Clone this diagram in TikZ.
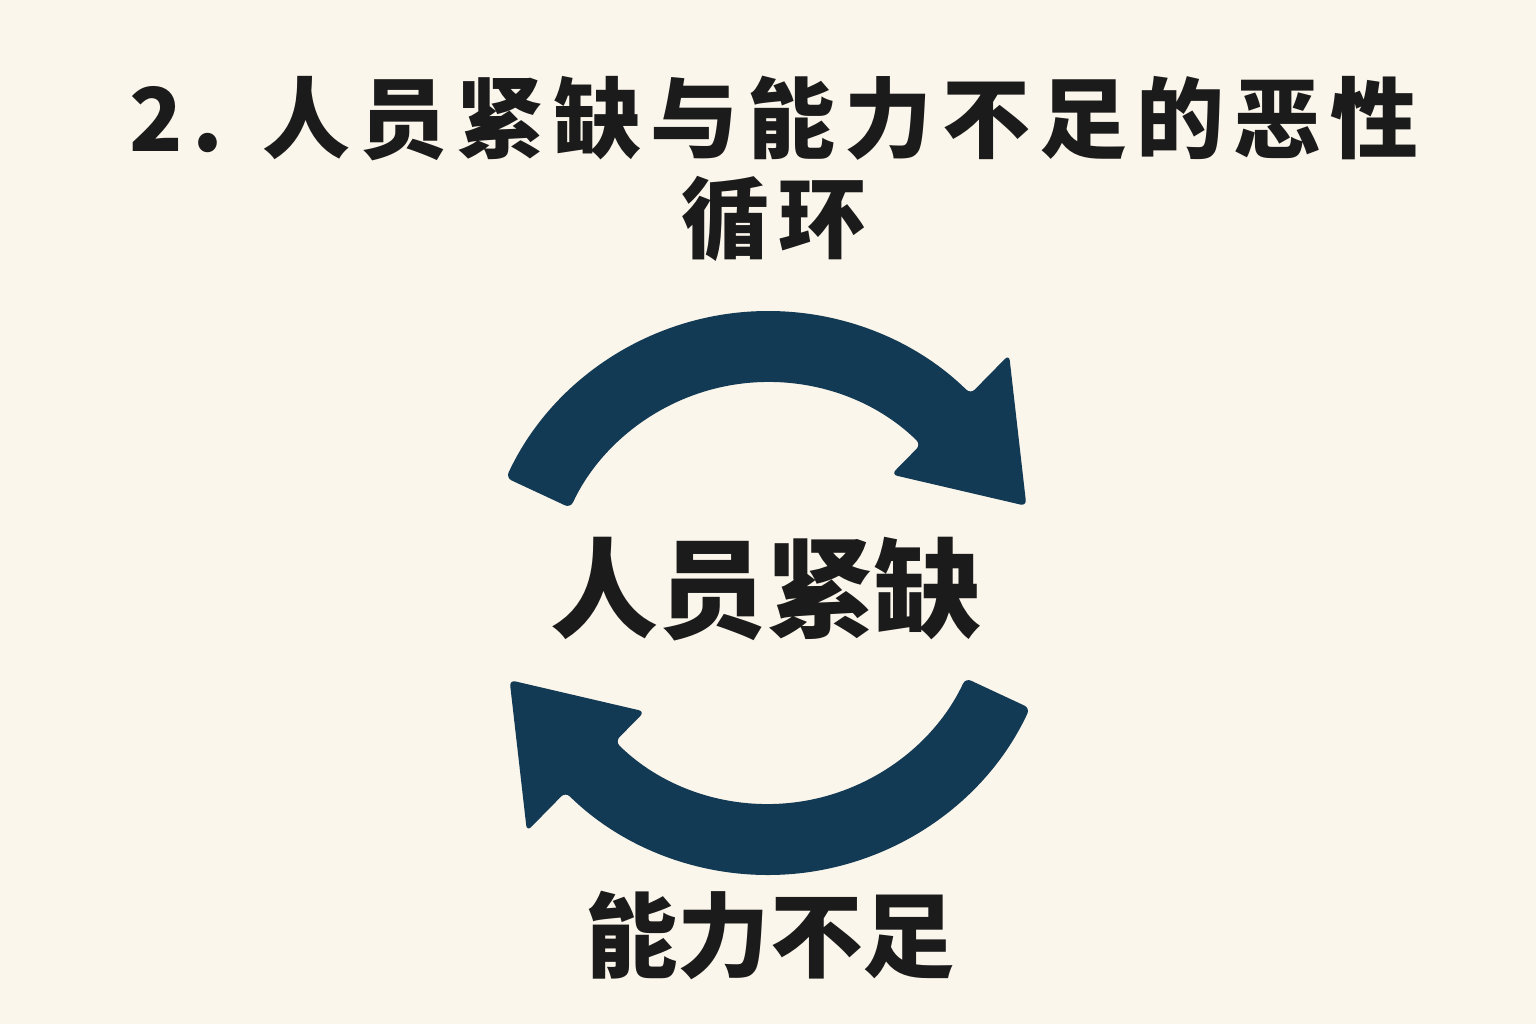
\documentclass[tikz,border=0pt]{standalone}
\usepackage{fontspec}
\newfontfamily\cjk{Noto Sans CJK SC}
\newfontfamily\cjktitle{Noto Sans CJK SC}[LetterSpace=10.5]
\definecolor{paper}{HTML}{FBF6EB}
\definecolor{navy}{HTML}{133A55}
\definecolor{ink}{HTML}{1B1B1B}
\tikzset{
  cyclearrow/.style={fill=navy, rounded corners=0.06cm},
  titletext/.style={text=ink, align=center, inner sep=0pt,
    font=\cjktitle\bfseries\fontsize{25}{28.5}\selectfont},
  bigword/.style={text=ink, inner sep=0pt,
    font=\cjk\bfseries\fontsize{#1}{#1}\selectfont},
}
\begin{document}
\begin{tikzpicture}[x=0.01cm,y=-0.01cm]
  % background and page size
  \fill[paper] (0,0) rectangle (1536,1024);
  \useasboundingbox (0,0) rectangle (1536,1024);

  % the title
  \node[titletext] (title) at (774,169) {2. 人员紧缺与能力不足的恶性\\循环};

  % the two curved arrows of the loop
  \foreach \cy/\rot in {600/0,586/180}{
    \fill[cyclearrow, shift={(768,\cy)}, yscale=-1, rotate=\rot]
      (155:289) arc[start angle=155, end angle=45.5, radius=289]
      -- (45.5:344) -- (20:275) -- (45.5:176) -- (45.5:218)
      arc[start angle=45.5, end angle=155, radius=218] -- cycle;
  }

  % the two words
  \node[bigword=30.7] (shortage) at (766,589) {人员紧缺};
  \node[bigword=26.3] (ability) at (770,935) {能力不足};
\end{tikzpicture}
\end{document}
